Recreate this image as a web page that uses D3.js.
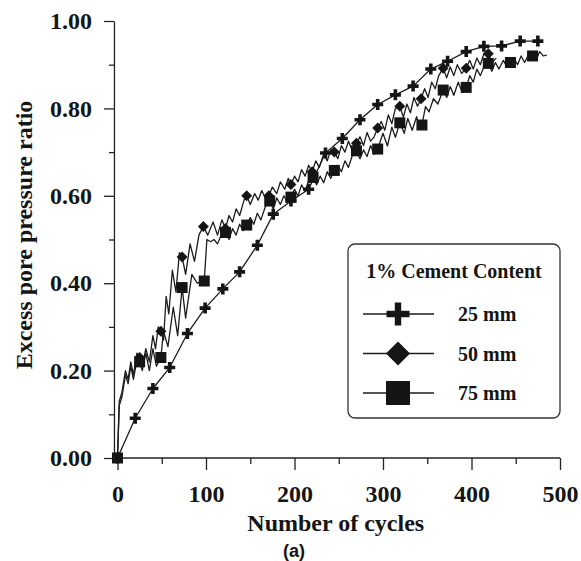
<!DOCTYPE html>
<html>
<head>
<meta charset="utf-8">
<script src="https://cdn.jsdelivr.net/npm/d3@7"></script>
<style>
  body { margin: 0; background: #fff; }
  text { font-family: "Liberation Serif", "Times New Roman", serif; font-weight: bold; fill: #151515; }
  .axis path, .axis line { stroke: #222; stroke-width: 1.3; }
</style>
</head>
<body>
<div id="chart"></div>
<script>
// 25 mm: smooth curve, one cross per reading
const cycles25 = [0, 20, 40, 59, 79, 99, 119, 138, 158, 176, 196, 216, 235, 254, 274, 294, 314, 334, 354, 373, 394, 414, 434, 455, 475];
const ratio25 = [0, 0.091, 0.159, 0.207, 0.285, 0.343, 0.387, 0.426, 0.487, 0.558, 0.588, 0.615, 0.698, 0.731, 0.774, 0.809, 0.831, 0.851, 0.89, 0.908, 0.93, 0.942, 0.943, 0.954, 0.954];

// 50 mm: zig-zag trace [cycles, ratio]
const trace50 = [
  [0, 0], [2, 0.13], [5, 0.15], [9, 0.2], [12, 0.18], [15, 0.22], [18, 0.19], [22, 0.24], [25, 0.23],
  [28, 0.21], [32, 0.25], [36, 0.22], [40, 0.28], [43, 0.25], [46, 0.3], [49, 0.29], [52, 0.27],
  [55, 0.37], [58, 0.33], [62, 0.43], [66, 0.38], [70, 0.47], [73, 0.46], [77, 0.42], [82, 0.49],
  [87, 0.45], [92, 0.51], [97, 0.53], [102, 0.51], [108, 0.54], [113, 0.51], [118, 0.545], [122, 0.525],
  [126, 0.555], [130, 0.54], [134, 0.57], [138, 0.555], [143, 0.59], [146, 0.6], [150, 0.58], [155, 0.605],
  [159, 0.59], [163, 0.612], [167, 0.595], [171, 0.6], [175, 0.62], [180, 0.605], [184, 0.632], [189, 0.615],
  [193, 0.64], [196, 0.626], [200, 0.645], [204, 0.632], [208, 0.66], [212, 0.645], [216, 0.67], [220, 0.655],
  [224, 0.68], [228, 0.665], [233, 0.695], [237, 0.68], [241, 0.705], [245, 0.7], [249, 0.685], [253, 0.715],
  [257, 0.7], [261, 0.725], [265, 0.705], [270, 0.72], [274, 0.735], [278, 0.715], [282, 0.745], [286, 0.725],
  [290, 0.735], [294, 0.755], [298, 0.77], [302, 0.75], [306, 0.785], [310, 0.765], [314, 0.8], [319, 0.805],
  [323, 0.78], [327, 0.81], [331, 0.79], [335, 0.825], [339, 0.805], [343, 0.822], [347, 0.845], [351, 0.825],
  [355, 0.86], [359, 0.845], [363, 0.875], [368, 0.892], [372, 0.87], [376, 0.895], [380, 0.875], [384, 0.9],
  [389, 0.88], [394, 0.892], [398, 0.91], [402, 0.89], [406, 0.915], [410, 0.9], [414, 0.925], [419, 0.925],
  [423, 0.905], [428, 0.915]
];
const marks50 = [25, 49, 73, 97, 122, 146, 171, 196, 220, 245, 270, 294, 319, 343, 368, 394, 419];

// 75 mm: zig-zag trace [cycles, ratio]
const trace75 = [
  [0, 0], [2, 0.12], [5, 0.14], [9, 0.19], [12, 0.17], [15, 0.21], [18, 0.18], [22, 0.225], [25, 0.22],
  [28, 0.2], [32, 0.24], [36, 0.2], [40, 0.25], [44, 0.21], [49, 0.23], [52, 0.29], [57, 0.255],
  [63, 0.345], [68, 0.28], [73, 0.39], [77, 0.32], [84, 0.42], [90, 0.4], [98, 0.405], [101, 0.5],
  [105, 0.495], [109, 0.5], [113, 0.49], [118, 0.515], [122, 0.516], [126, 0.5], [130, 0.525], [134, 0.51],
  [138, 0.535], [142, 0.52], [146, 0.533], [150, 0.55], [154, 0.535], [158, 0.56], [162, 0.545], [167, 0.575],
  [172, 0.588], [176, 0.57], [180, 0.595], [184, 0.58], [188, 0.6], [192, 0.585], [196, 0.597], [200, 0.615],
  [204, 0.6], [208, 0.625], [212, 0.61], [216, 0.635], [221, 0.642], [225, 0.625], [229, 0.645], [233, 0.63],
  [237, 0.655], [241, 0.64], [245, 0.658], [249, 0.67], [253, 0.655], [257, 0.68], [261, 0.665], [265, 0.69],
  [270, 0.703], [274, 0.685], [278, 0.705], [282, 0.69], [286, 0.715], [290, 0.695], [294, 0.707], [300, 0.743],
  [305, 0.714], [310, 0.757], [314, 0.734], [319, 0.767], [324, 0.743], [328, 0.777], [333, 0.75], [338, 0.781],
  [341, 0.757], [344, 0.762], [348, 0.804], [352, 0.792], [357, 0.822], [362, 0.81], [368, 0.842], [372, 0.825],
  [376, 0.85], [380, 0.83], [385, 0.86], [389, 0.84], [394, 0.848], [398, 0.875], [402, 0.86], [406, 0.89],
  [410, 0.875], [415, 0.9], [419, 0.903], [423, 0.885], [427, 0.905], [431, 0.89], [436, 0.91], [440, 0.895],
  [444, 0.905], [448, 0.915], [452, 0.9], [456, 0.92], [460, 0.905], [465, 0.925], [469, 0.92], [473, 0.91],
  [477, 0.93], [481, 0.92], [485, 0.922]
];
const marks75 = [0, 25, 49, 73, 98, 122, 146, 172, 196, 221, 245, 270, 294, 319, 344, 368, 394, 419, 444, 469];

const xMajor = [0, 100, 200, 300, 400, 500];
const xMinor = [50, 150, 250, 350, 450];
const yMajor = [0, 0.2, 0.4, 0.6, 0.8, 1.0];
const yMinor = [0.1, 0.3, 0.5, 0.7, 0.9];
const legendItems = ["25 mm", "50 mm", "75 mm"];

const width = 581, height = 561;
const ink = "#151515";

const svg = d3.select("#chart").append("svg")
  .attr("width", width)
  .attr("height", height);

const x = d3.scaleLinear().domain([0, 500]).range([117.5, 560]);
const y = d3.scaleLinear().domain([0, 1]).range([458, 21]);
const yAxisX = x(-4);

// marker shapes
function cross(s, t) {
  return `M${-t},${-s}H${t}V${-t}H${s}V${t}H${t}V${s}H${-t}V${t}H${-s}V${-t}H${-t}Z`;
}
function diamond(s) { return `M0,${-s}L${s},0L0,${s}L${-s},0Z`; }
function square(s) { return `M${-s},${-s}H${s}V${s}H${-s}Z`; }

// Y axis (major + minor)
svg.append("g")
  .attr("class", "axis")
  .attr("transform", `translate(${yAxisX},0)`)
  .call(d3.axisLeft(y).tickValues(yMajor).tickFormat(d3.format(".2f"))
    .tickSize(10).tickSizeOuter(0).tickPadding(12))
  .call(g => g.selectAll("text").attr("font-size", 24).attr("font-family", null));

svg.append("g")
  .attr("class", "axis")
  .attr("transform", `translate(${yAxisX},0)`)
  .call(d3.axisLeft(y).tickValues(yMinor).tickFormat("").tickSize(5).tickSizeOuter(0))
  .call(g => g.select(".domain").remove());

// X axis
svg.append("g")
  .attr("class", "axis")
  .attr("transform", `translate(0,${y(0)})`)
  .call(d3.axisBottom(x).tickValues(xMajor).tickFormat(d3.format("d"))
    .tickSize(12).tickSizeOuter(0).tickPadding(15))
  .call(g => g.select(".domain").attr("d", `M${yAxisX},0H${x(500)}`))
  .call(g => g.selectAll("text").attr("font-size", 24).attr("font-family", null));

svg.append("g")
  .attr("class", "axis")
  .attr("transform", `translate(0,${y(0)})`)
  .call(d3.axisBottom(x).tickValues(xMinor).tickFormat("").tickSize(6).tickSizeOuter(0))
  .call(g => g.select(".domain").remove());

// titles
svg.append("text")
  .attr("x", x(250) - 3)
  .attr("y", 531)
  .attr("text-anchor", "middle")
  .attr("font-size", 24)
  .text("Number of cycles");

svg.append("text")
  .attr("x", 294)
  .attr("y", 557)
  .attr("text-anchor", "middle")
  .attr("font-size", 18)
  .style("font-family", "'Liberation Sans', Arial, sans-serif")
  .text("(a)");

svg.append("text")
  .attr("transform", "translate(32,235) rotate(-90)")
  .attr("text-anchor", "middle")
  .attr("font-size", 24)
  .text("Excess pore pressure ratio");

// lines
const line = d3.line().x(d => x(d[0])).y(d => y(d[1]));
const data25 = cycles25.map((c, i) => [c, ratio25[i]]);

const plot = svg.append("g");
[data25, trace50, trace75].forEach(d => {
  plot.append("path")
    .datum(d)
    .attr("d", line)
    .attr("fill", "none")
    .attr("stroke", "#1c1c1c")
    .attr("stroke-width", 1.3)
    .attr("stroke-linejoin", "round");
});

// markers
plot.selectAll(".m25").data(data25).join("path")
  .attr("class", "m25")
  .attr("transform", d => `translate(${x(d[0])},${y(d[1])})`)
  .attr("d", cross(5.5, 1.8))
  .attr("fill", ink);

plot.selectAll(".m50").data(trace50.filter(d => marks50.includes(d[0]))).join("path")
  .attr("class", "m50")
  .attr("transform", d => `translate(${x(d[0])},${y(d[1])})`)
  .attr("d", diamond(5.5))
  .attr("fill", ink);

plot.selectAll(".m75").data(trace75.filter(d => marks75.includes(d[0]))).join("path")
  .attr("class", "m75")
  .attr("transform", d => `translate(${x(d[0])},${y(d[1])})`)
  .attr("d", square(5.5))
  .attr("fill", ink);

// legend
const legend = svg.append("g").attr("transform", "translate(348,244)");
legend.append("rect")
  .attr("width", 212)
  .attr("height", 174)
  .attr("rx", 7)
  .attr("fill", "#fff")
  .attr("stroke", "#333")
  .attr("stroke-width", 1.3);

legend.append("text")
  .attr("x", 106)
  .attr("y", 34)
  .attr("text-anchor", "middle")
  .attr("font-size", 20)
  .text("1% Cement Content");

const shapes = [cross(11.5, 3.2), diamond(12), square(12)];
const row = legend.selectAll(".row").data(legendItems).join("g")
  .attr("class", "row")
  .attr("transform", (d, i) => `translate(0,${70 + i * 39.5})`);

row.append("line")
  .attr("x1", 15).attr("x2", 86)
  .attr("stroke", "#1c1c1c")
  .attr("stroke-width", 1.3);

row.append("path")
  .attr("transform", "translate(50,0)")
  .attr("d", (d, i) => shapes[i])
  .attr("fill", ink);

row.append("text")
  .attr("x", 110)
  .attr("y", 7)
  .attr("font-size", 20)
  .text(d => d);
</script>
</body>
</html>
